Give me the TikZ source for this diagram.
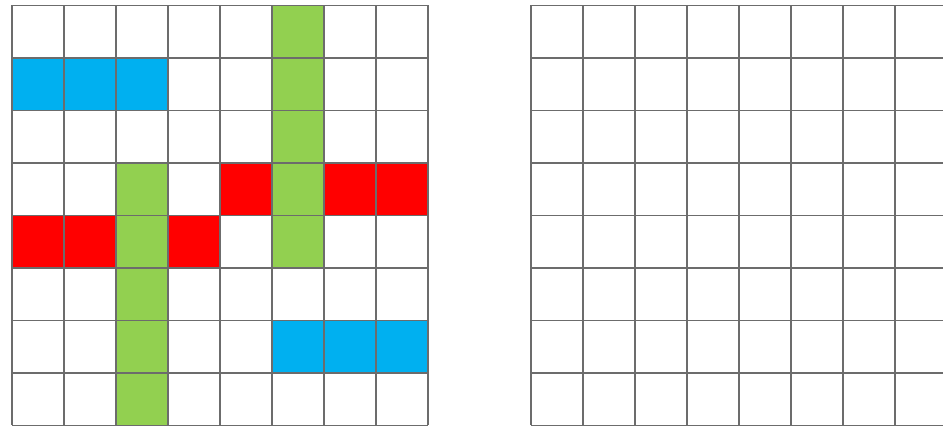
\documentclass[tikz,border=0pt]{standalone}
\usepackage{xcolor}
\usepackage{tikz}
\definecolor{cellblue}{HTML}{00B0F0}
\definecolor{cellred}{HTML}{FF0000}
\definecolor{cellgreen}{HTML}{92D050}
\colorlet{gridgray}{gray!85!black}
\newcommand{\paintcell}[3]{%
  \fill[#1] (#2,#3) rectangle ({#2+1},{#3+1});}
\newcommand{\boardlines}{%
  \foreach \k in {0,...,8}{
    \draw[gridgray,line width=0.8pt] (\k,0)--(\k,8);
    \draw[gridgray,line width=0.8pt] (0,\k)--(8,\k);}}
\begin{document}
\begin{tikzpicture}[x=0.02cm,y=-0.02cm]
\clip (0,0) rectangle (943,428);
\fill[white] (0,0) rectangle (943,428);
% left board, coloured cells (column, row from top)
\begin{scope}[shift={(12,5.5)},x=1.04cm,y=-1.05cm]
\foreach \r in {0,...,4}{\paintcell{cellgreen}{5}{\r}}
\foreach \r in {3,...,7}{\paintcell{cellgreen}{2}{\r}}
\foreach \c in {0,1,2}{\paintcell{cellblue}{\c}{1}}
\foreach \c in {5,6,7}{\paintcell{cellblue}{\c}{6}}
\foreach \c in {4,6,7}{\paintcell{cellred}{\c}{3}}
\foreach \c in {0,1,3}{\paintcell{cellred}{\c}{4}}
\boardlines
\end{scope}
% right board, empty
\begin{scope}[shift={(531,5.5)},x=1.04cm,y=-1.05cm]
\boardlines
\end{scope}
\end{tikzpicture}
\end{document}
